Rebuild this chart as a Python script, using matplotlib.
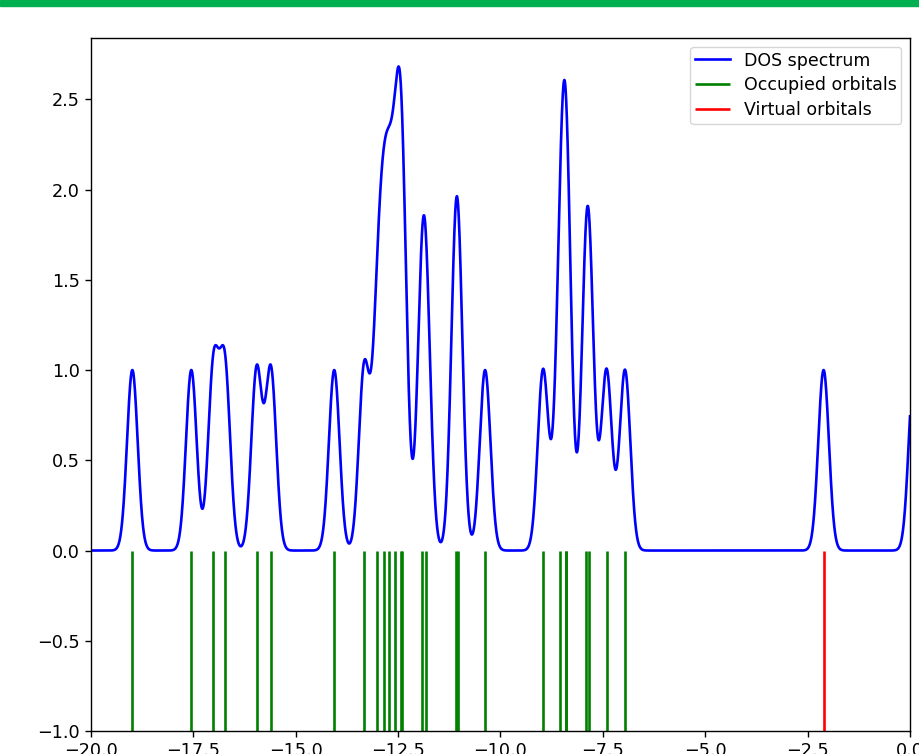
import numpy as np
import matplotlib
matplotlib.use('Agg')
import matplotlib.pyplot as plt
from matplotlib.patches import Rectangle

# orbital energies (eV); -8.40 is doubly degenerate
occupied = [-18.99, -17.55, -17.01, -16.73, -15.955, -15.607, -14.06,
            -13.33, -13.01, -12.856, -12.727, -12.58, -12.43, -12.40,
            -11.92, -11.82, -11.09, -11.04, -10.376, -8.96, -8.55,
            -8.40, -8.40, -7.91, -7.83, -7.41, -6.96]
virtual = [-2.11, 0.10]
sigma = 0.13

# gaussian broadening of the orbital energies -> DOS
energy = np.linspace(-20, 0, 4001)
dos = np.zeros_like(energy)
for e in occupied + virtual:
    dos += np.exp(-(energy - e) ** 2 / (2 * sigma ** 2))

fig = plt.figure(figsize=(9.19, 7.54), dpi=100)
ax = fig.add_axes([0.099, 0.0305, 0.8912, 0.9191])

ax.plot(energy, dos, color='blue', lw=1.9, label='DOS spectrum')
ax.vlines(occupied, -1, 0, color='green', lw=1.9, label='Occupied orbitals')
ax.vlines(virtual, -1, 0, color='red', lw=1.9, label='Virtual orbitals')

ax.set_xlim(-20, 0)
ax.set_ylim(-1, 2.84)
ax.set_xticks(np.arange(-20, 0.1, 2.5))
ax.set_yticks(np.arange(-1, 2.6, 0.5))
ax.tick_params(labelsize=12.7, length=4.4, width=1.0)
for s in ax.spines.values():
    s.set_linewidth(1.0)

ax.legend(loc='upper right', fontsize=12.5, labelspacing=0.4, borderpad=0.28)

# green strip along the top edge of the screenshot
fig.patches.append(Rectangle((0, 1 - 6 / 754), 1, 6 / 754, transform=fig.transFigure,
                             color='#00b050', zorder=10))

fig.savefig('out.png', dpi=100)
